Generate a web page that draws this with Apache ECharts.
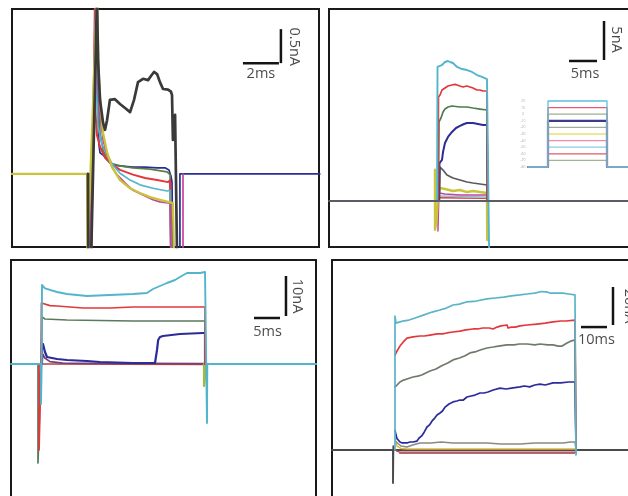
<!DOCTYPE html>
<html><head><meta charset="utf-8">
<script src="https://cdn.jsdelivr.net/npm/echarts/dist/echarts.min.js"></script>
<style>html,body{margin:0;padding:0;background:#fff}#c{width:628px;height:496px}</style>
</head><body><div id="c"></div>
<script>
// ---------- Panel A (ms, nA) ----------
const aYellow  = [[0,0],[4.17,0],[4.19,-1.2],[4.30,-1.2],[4.72,2.6],[4.83,1.4],[4.94,0.94],[5.06,0.60],[5.28,0.32],[5.56,0.10],[6.0,-0.09],[6.56,-0.21],[7.11,-0.28],[7.67,-0.34],[8.22,-0.38],[8.67,-0.41],[8.94,-0.43],[9.0,-1.2],[9.1,-1.2]];
const aMagenta = [[4.33,0],[4.35,-1.2],[4.45,-1.2],[4.67,2.6],[4.78,1.24],[4.89,0.87],[5.06,0.50],[5.28,0.28],[5.56,0.10],[5.83,-0.01],[6.28,-0.13],[6.72,-0.24],[7.28,-0.31],[7.83,-0.38],[8.22,-0.41],[8.78,-0.43],[8.83,-1.2],[9.5,-1.2],[9.5,0]];
const aCyan    = [[4.28,0],[4.30,-1.2],[4.40,-1.2],[4.67,2.6],[4.72,1.09],[4.78,0.69],[5.0,0.43],[5.28,0.28],[5.61,0.13],[6.0,0.01],[6.56,-0.09],[7.11,-0.16],[7.83,-0.21],[8.61,-0.25],[8.78,-0.24],[8.83,-1.2]];
const aRed     = [[4.39,0],[4.41,-1.2],[4.50,-1.2],[4.61,2.6],[4.64,0.90],[4.72,0.57],[4.89,0.40],[5.17,0.24],[5.61,0.13],[6.0,0.06],[6.72,-0.01],[7.39,-0.06],[8.06,-0.09],[8.67,-0.12],[8.78,-0.09],[8.83,-1.2]];
const aGreen   = [[4.33,0],[4.35,-1.2],[4.45,-1.2],[4.69,2.6],[4.78,1.38],[4.89,0.60],[5.06,0.35],[5.28,0.21],[5.44,0.16],[6.0,0.12],[6.72,0.09],[7.67,0.07],[8.61,0.03],[8.78,-0.01],[8.89,-1.2]];
const aBlue    = [[4.30,0],[4.32,-1.2],[4.42,-1.2],[4.69,2.6],[4.72,1.68],[4.78,0.79],[4.83,0.43],[4.89,0.31],[5.06,0.28],[5.28,0.21],[5.61,0.13],[6.0,0.12],[6.72,0.10],[7.39,0.10],[8.06,0.09],[8.5,0.09],[8.72,0.06],[8.83,-0.03],[8.89,-0.12],[8.94,-1.2],[9.33,-1.2],[9.33,0],[17.1,0]];
const aBlack   = [[4.22,0],[4.24,-1.2],[4.40,-1.2],[4.72,2.6],[4.78,1.68],[4.89,1.09],[5.06,0.75],[5.17,0.65],[5.28,0.79],[5.44,1.09],[5.72,1.10],[6.0,1.03],[6.28,0.97],[6.56,0.91],[6.78,1.09],[7.0,1.35],[7.28,1.40],[7.56,1.38],[7.72,1.44],[7.89,1.50],[8.06,1.47],[8.22,1.35],[8.39,1.25],[8.67,1.24],[8.83,1.21],[8.89,1.16],[8.94,0.50],[9.0,0.65],[9.06,0.87],[9.11,0.87],[9.17,-1.2]];

// ---------- Panel B (ms, nA) ----------
const bCyan    = [[19.29,0],[19.38,17.18],[19.82,17.31],[20.18,17.44],[20.71,17.82],[21.25,17.95],[21.61,17.82],[22.14,17.69],[22.5,17.44],[22.86,17.18],[23.75,16.92],[24.64,16.79],[25.54,16.54],[26.43,16.15],[27.32,15.9],[28.21,15.64],[28.39,15.51],[28.57,-5.3],[28.6,-6.5]];
const bRed     = [[19.46,0],[19.55,13.33],[19.82,13.59],[20.18,14.23],[20.71,14.49],[21.25,14.74],[21.96,14.87],[22.5,14.95],[22.86,14.87],[23.39,14.74],[23.93,14.62],[24.64,14.74],[25.18,14.62],[25.71,14.49],[26.43,14.23],[26.96,14.23],[27.5,14.10],[28.21,14.10],[28.3,0]];
const bGreen   = [[19.55,0],[19.64,10.13],[20.0,10.64],[20.36,11.41],[20.71,11.79],[21.25,12.05],[21.96,12.18],[23.39,12.05],[24.64,12.05],[25.71,11.92],[26.96,11.79],[28.21,11.67],[28.3,0]];
const bBlue    = [[19.64,0],[19.73,4.87],[20.0,4.62],[20.18,5.26],[20.36,6.28],[20.71,7.44],[21.25,8.21],[21.96,8.85],[22.68,9.36],[23.39,9.62],[24.11,9.87],[24.64,10.0],[25.71,10.0],[26.61,9.87],[27.5,9.74],[28.21,9.74],[28.3,0]];
const bGray    = [[19.73,0],[19.82,4.36],[20.36,3.97],[21.07,3.33],[22.14,2.95],[23.39,2.69],[24.64,2.44],[25.71,2.31],[26.96,2.18],[28.21,2.05],[28.3,0]];
const bYellow  = [[18.93,4.0],[18.93,-3.7],[19.2,-2.5],[19.46,0.5],[19.82,1.67],[20.71,1.54],[22.14,1.28],[23.39,1.41],[24.64,1.15],[25.71,1.28],[26.96,1.15],[28.21,1.03],[28.25,-5.0],[28.4,-4.0]];
const bMagenta = [[19.46,0],[19.46,-3.85],[19.64,1.03],[20.71,0.9],[23.39,0.77],[28.21,0.77],[28.3,0]];
const bLightCyan = [[19.82,0.64],[28.21,0.51]];
const bRedLow  = [[19.82,0.42],[28.21,0.33]];
const bBaseline = [[0,0],[55,0]];

// ---------- Panel B inset: voltage protocol (ms, mV) ----------
const insetLevels = [20,10,0,-10,-20,-30,-40,-50,-60,-70];
const insetHold = -80;
const insetTimes = [1.6, 5.6, 17.4, 22];   // start, step on, step off, end
const insetLabels = ['20','10','0','-10','-20','-30','-40','-50','-60','-70','-80'];

// ---------- Panel C (ms, nA) ----------
const cCyan    = [[0,0],[5.77,0],[5.77,-10],[5.9,0],[5.96,19.75],[6.15,19.25],[6.54,18.9],[6.92,18.5],[8.85,18.0],[10.77,17.5],[14.62,17.0],[19.04,17.25],[23.46,17.5],[26.15,17.75],[27.31,18.75],[28.65,19.5],[30.0,20.25],[31.54,21.0],[32.5,21.75],[33.85,22.75],[36.35,22.75],[37.31,23.0],[37.69,23.0],[37.69,-14.75],[37.75,0],[58.7,0]];
const cRed     = [[5.4,0],[5.4,-21.5],[5.6,-10],[5.77,0],[5.85,15.25],[6.15,15.0],[7.5,14.6],[8.85,14.5],[13.85,14.0],[19.04,14.0],[23.46,14.25],[30.0,14.25],[36.92,14.25],[37.31,14.25],[37.31,0]];
const cGreen   = [[5.19,0],[5.19,-24.75],[5.5,-12],[5.85,0],[5.96,11.75],[6.54,11.25],[10.77,11.0],[23.46,10.75],[36.92,10.75],[37.31,10.75],[37.31,0]];
const cBlue    = [[5.96,0],[5.96,4.25],[6.15,5.0],[6.54,3.0],[6.92,1.75],[8.85,1.25],[10.77,1.0],[14.62,0.75],[17.12,0.5],[23.46,0.25],[27.69,0.25],[27.9,2.0],[28.08,3.5],[28.3,6.0],[28.65,6.75],[29.23,7.0],[32.5,7.5],[36.92,7.75],[37.31,7.75],[37.31,0]];
const cPurple  = [[5.96,0],[6.1,2.5],[6.5,1.5],[7.5,0.6],[10,0.2],[37.3,0.1]];
const cRedLow  = [[5.96,0],[37.31,-0.1]];
const cYellowGreen = [[37.12,0],[37.12,-5.5],[37.3,-3.5],[37.31,0]];

// ---------- Panel D (ms, nA) ----------
const dBaseline = [[0,0],[23.46,0],[23.46,-17.4],[23.6,2],[23.8,0],[117.5,0]];
const dCyan    = [[24.23,0],[24.23,70.5],[24.6,66.8],[25.0,66.8],[26.15,67.4],[27.7,68.0],[29.6,68.4],[32.0,69.5],[35.4,71.1],[38.5,72.6],[41.5,73.7],[44.0,74.7],[46.54,76.3],[49.0,76.8],[52.0,78.0],[55.5,78.4],[59.62,79.5],[62.7,80.0],[66.0,80.5],[69.0,81.1],[72.31,81.6],[75.0,82.1],[78.0,82.6],[80.5,83.4],[81.15,83.7],[82.5,83.2],[83.85,82.6],[86.0,82.6],[88.85,82.6],[91.0,82.1],[93.46,81.6],[93.85,81.6],[93.85,-2.6],[94.0,0]];
const dRed     = [[24.23,50.0],[25.0,52.1],[26.15,54.7],[27.5,57.0],[28.85,58.9],[31.15,59.5],[33.85,60.0],[35.5,60.0],[37.69,60.5],[40.38,61.1],[42.5,61.1],[44.23,61.6],[46.5,62.1],[49.23,62.6],[51.5,63.2],[54.23,63.7],[56.0,63.7],[58.0,64.2],[60.5,64.2],[61.92,63.7],[63.5,64.7],[65.0,65.3],[67.31,65.8],[67.7,64.2],[69.0,64.7],[70.5,64.7],[72.31,65.3],[75.0,65.8],[78.85,66.3],[82.0,66.8],[85.0,67.4],[88.0,67.9],[90.0,67.9],[93.46,68.4],[93.85,68.4],[93.85,0]];
const dGray    = [[24.23,33.2],[25.0,34.2],[26.15,35.8],[27.5,36.8],[28.85,37.4],[31.15,38.4],[33.0,38.9],[34.5,39.5],[37.69,41.6],[40.0,42.6],[42.0,44.2],[44.5,45.8],[46.54,47.4],[49.0,48.4],[51.0,49.5],[53.08,51.1],[55.0,51.6],[57.0,52.6],[59.62,53.7],[62.0,54.2],[64.0,54.7],[67.31,55.3],[70.0,55.3],[72.0,55.8],[75.0,55.8],[78.0,55.3],[80.0,55.8],[83.0,55.3],[85.0,55.3],[87.0,54.7],[87.69,53.7],[88.5,54.7],[90.38,56.3],[92.0,57.4],[93.46,57.9],[93.85,57.9],[93.85,0]];
const dBlue    = [[24.23,10.5],[24.6,8.0],[25.0,6.0],[26.15,4.2],[27.0,3.7],[28.85,3.7],[30.0,4.2],[31.15,4.2],[32.69,4.7],[33.5,6.3],[34.5,7.4],[35.5,9.5],[36.54,12.1],[37.5,13.2],[38.5,15.3],[39.5,16.8],[40.4,18.4],[41.54,19.5],[42.5,20.5],[43.5,22.6],[45.0,24.2],[46.54,25.3],[48.0,25.8],[49.23,26.3],[50.5,26.3],[51.92,27.9],[53.5,28.4],[55.0,28.9],[56.92,30.0],[58.5,30.0],[60.0,30.5],[62.0,31.6],[64.62,32.6],[67.0,32.1],[69.0,32.6],[72.31,33.2],[74.0,33.7],[76.0,33.2],[78.0,34.2],[80.0,34.7],[82.0,34.2],[85.0,35.3],[88.0,35.3],[91.0,35.8],[93.46,35.8],[93.85,35.8],[93.85,0]];
const dGrayLow = [[24.5,4.5],[25.0,3.7],[26.5,2.1],[28.85,1.6],[31.0,2.6],[33.85,3.7],[38.0,3.7],[42.0,4.2],[46.54,3.7],[52.0,3.7],[59.62,3.7],[65.0,3.2],[72.31,3.2],[78.0,3.7],[85.0,3.7],[89.0,3.7],[91.54,4.2],[93.46,4.2],[93.85,0]];
const dYellow  = [[24.23,6.0],[25.0,2.0],[26.5,0.8],[28.85,0.5],[93.46,0.5],[93.85,0]];
const dRedLow  = [[24.8,-0.5],[26,-1.1],[93.46,-1.1],[93.85,-0.5]];
const dMaroon  = [[26,-1.6],[93.46,-1.6]];

// ---------- Scale bar labels ----------
const scaleText = ['0.5nA','2ms','5nA','5ms','10nA','5ms','20nA','10ms'];

// ================= build =================
const FONT = "'Open Sans','Liberation Sans',sans-serif";
const C = {cyan:'#52b5cc', red:'#e2383c', green:'#4e7d50', olive:'#5a7f45', blue:'#2b2b9a', gray:'#5a5a5a',
  yellow:'#c9c43c', magenta:'#c0459c', black:'#3a3a3a', base:'#5c5c68'};
const series = [];
function trace(g, data, color, width) {
  series.push({type:'line', xAxisIndex:g, yAxisIndex:g, data:data, showSymbol:false, symbol:'none',
    lineStyle:{color:color, width:width||1.7, join:'round', cap:'round'}, itemStyle:{color:color},
    silent:true, animation:false, clip:true, z:2});
}
function bar(g, pts) {
  series.push({type:'line', xAxisIndex:g, yAxisIndex:g, data:pts, showSymbol:false, symbol:'none',
    lineStyle:{color:'#141414', width:2.5}, silent:true, animation:false, clip:false, z:4});
}
function text(g, pt, str, rot, size, color) {
  series.push({type:'scatter', xAxisIndex:g, yAxisIndex:g, data:[pt], symbolSize:1,
    itemStyle:{color:'rgba(0,0,0,0)'}, silent:true, animation:false, clip:false, z:5,
    label:{show:true, position:'inside', formatter:str, rotate:rot||0, fontSize:size||14.5,
      color:color||'#1a1a1a', fontFamily:FONT}});
}

// grids: 0=A, 1=B, 2=inset, 3=C, 4=D
const frame = {show:true, borderColor:'#1a1a1a', borderWidth:2, backgroundColor:'transparent',
  outerBoundsMode:'none', containLabel:false};
const grids = [
  Object.assign({left:12, top:9, width:307, height:238}, frame),
  Object.assign({left:329, top:9, width:303, height:238}, frame),
  {show:false, left:520, top:96, width:110, height:76, outerBoundsMode:'none', containLabel:false},
  Object.assign({left:11, top:260, width:305, height:250}, frame),
  Object.assign({left:332, top:260, width:305, height:250}, frame)
];
const xr = [[0,17.056],[0,54.107],[0,22],[0,58.654],[0,117.31]];
const yr = [[-1.074,2.426],[-5.897,24.615],[-87.6,27.6],[-36.5,26],[-31.58,100]];
const xAxis = xr.map((r,i)=>({type:'value', gridIndex:i, min:r[0], max:r[1], show:false, splitLine:{show:false}}));
const yAxis = yr.map((r,i)=>({type:'value', gridIndex:i, min:r[0], max:r[1], show:false, splitLine:{show:false}}));

// Panel A
trace(0, aBlue, C.blue); trace(0, aGreen, C.olive); trace(0, aRed, C.red, 2); trace(0, aCyan, C.cyan);
trace(0, aMagenta, C.magenta); trace(0, aYellow, C.yellow, 2.3); trace(0, aBlack, C.black, 2.7);
bar(0, [[12.83,1.63],[14.83,1.63]]); bar(0, [[14.94,1.63],[14.94,2.13]]);
text(0, [15.67,1.87], scaleText[0], -90); text(0, [13.83,1.47], scaleText[1], 0);

// Panel B
trace(1, bRedLow, C.red, 1.3); trace(1, bLightCyan, '#7cc6dc', 1.3); trace(1, bMagenta, C.magenta, 1.4);
trace(1, bYellow, C.yellow, 2.4); trace(1, bGray, C.gray); trace(1, bBlue, C.blue, 2);
trace(1, bGreen, C.green); trace(1, bRed, C.red); trace(1, bCyan, C.cyan, 1.9);
trace(1, bBaseline, C.base, 2);
bar(1, [[42.86,17.95],[47.86,17.95]]); bar(1, [[49.11,18.08],[49.11,23.08]]);
text(1, [51.25,20.7], scaleText[2], -90); text(1, [45.71,16.28], scaleText[3], 0);

// Inset protocol
const insetColors = ['#5ec0dc','#e8587a','#98b090','#3a3c8c','#a0aca0','#e8e07a','#f08ab0','#8ccbe8','#e05a6a','#a0b498'];
for (let i = insetLevels.length-1; i >= 0; i--) {
  const v = insetLevels[i], t = insetTimes;
  trace(2, [[t[0],insetHold],[t[1],insetHold],[t[1],v],[t[2],v],[t[2],insetHold],[t[3],insetHold]],
    insetColors[i], i===3 ? 2.2 : 1.3);
}
insetLabels.forEach((s,i)=>{ const v = i < insetLevels.length ? insetLevels[i] : insetHold;
  text(2, [0.6, v], s, 0, 3.5, '#9a9a9a'); });

// Panel C
trace(3, cRedLow, '#b8443c', 1.6); trace(3, cPurple, '#7a3f78', 1.7); trace(3, cYellowGreen, '#a8b83a', 2.2);
trace(3, cBlue, C.blue, 2.2); trace(3, cGreen, '#5a7a5c'); trace(3, cRed, C.red); trace(3, cCyan, C.cyan, 1.9);
bar(3, [[46.73,11.5],[51.73,11.5]]); bar(3, [[52.88,12.0],[52.88,22.0]]);
text(3, [55.1,17], scaleText[4], -90); text(3, [49.33,8.0], scaleText[5], 0);

// Panel D
trace(4, dBaseline, '#4a4a4a', 1.9); trace(4, dMaroon, '#8a3a5a', 1.3); trace(4, dRedLow, '#c84040', 1.3);
trace(4, dYellow, '#d8b84a', 1.4); trace(4, dGrayLow, '#8a8a80', 1.5); trace(4, dBlue, C.blue);
trace(4, dGray, '#6f7a6a'); trace(4, dRed, C.red); trace(4, dCyan, '#5ab4c8');
bar(4, [[95.77,64.7],[105.77,64.7]]); bar(4, [[108.08,65.8],[108.08,85.8]]);
text(4, [114.2,75.8], scaleText[6], -90); text(4, [101.73,57.9], scaleText[7], 0);

const chart = echarts.init(document.getElementById('c'), null, {renderer:'canvas'});
chart.setOption({animation:false, backgroundColor:'#ffffff', grid:grids, xAxis:xAxis, yAxis:yAxis, series:series});
</script></body></html>
